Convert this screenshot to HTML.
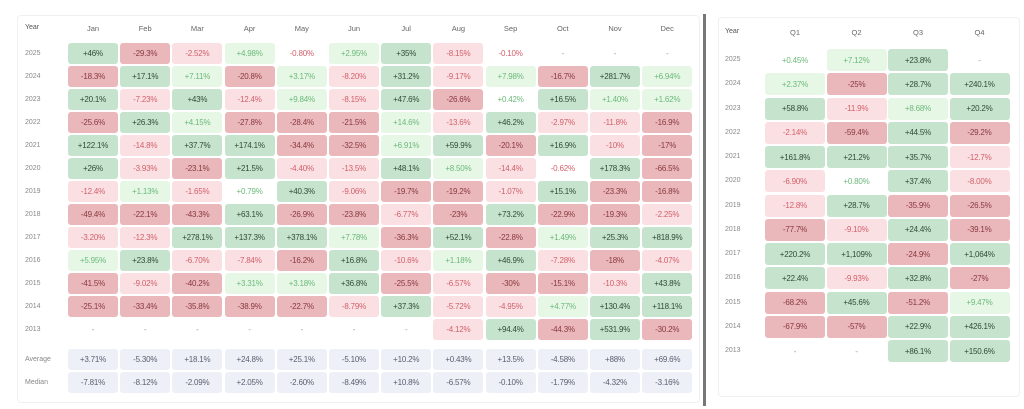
<!DOCTYPE html>
<html><head><meta charset="utf-8"><style>
body{margin:0;width:1024px;height:409px;background:#fff;position:relative;overflow:hidden;font-family:"Liberation Sans",sans-serif;}
.p{position:absolute;border:1px solid #eef0f2;border-radius:4px;}
.c{position:absolute;display:flex;align-items:center;justify-content:center;font-size:8px;border-radius:3px;letter-spacing:-0.2px;}
.l{position:absolute;font-size:7px;color:#888;}
.h{position:absolute;font-size:7.5px;color:#666;text-align:center;}
</style></head><body>
<div class="p" style="left:17px;top:15px;width:681px;height:386px;"></div>
<div style="position:absolute;left:703px;top:14px;width:3px;height:392px;background:#777;"></div>
<div class="p" style="left:718px;top:17px;width:300px;height:378px;"></div>
<div id="root"></div>
<script>
function sty(v,stat){
  if(stat) return ['#eef0f8','#5a5f6e'];
  if(v==='-') return ['transparent','#999'];
  var n=parseFloat(v.replace(/,/g,''));
  var a=Math.abs(n);
  if(a<1) return ['transparent', n<0?'#d0606a':'#6cb97a'];
  if(n>0) return a>=15?['#c6e4cd','#2f4a36']:['#e6f7e6','#6cb97a'];
  return a>=15?['#eab7ba','#883a3f']:['#fbe0e3','#d0606a'];
}
var out='';
function cell(x,y,w,h,v,stat){var s=sty(v,stat);out+='<div class="c" style="left:'+x+'px;top:'+y+'px;width:'+w+'px;height:'+h+'px;background:'+s[0]+';color:'+s[1]+'">'+v+'</div>';}
var L=[
['2025','+46%','-29.3%','-2.52%','+4.98%','-0.80%','+2.95%','+35%','-8.15%','-0.10%','-','-','-'],
['2024','-18.3%','+17.1%','+7.11%','-20.8%','+3.17%','-8.20%','+31.2%','-9.17%','+7.98%','-16.7%','+281.7%','+6.94%'],
['2023','+20.1%','-7.23%','+43%','-12.4%','+9.84%','-8.15%','+47.6%','-26.6%','+0.42%','+16.5%','+1.40%','+1.62%'],
['2022','-25.6%','+26.3%','+4.15%','-27.8%','-28.4%','-21.5%','+14.6%','-13.6%','+46.2%','-2.97%','-11.8%','-16.9%'],
['2021','+122.1%','-14.8%','+37.7%','+174.1%','-34.4%','-32.5%','+6.91%','+59.9%','-20.1%','+16.9%','-10%','-17%'],
['2020','+26%','-3.93%','-23.1%','+21.5%','-4.40%','-13.5%','+48.1%','+8.50%','-14.4%','-0.62%','+178.3%','-66.5%'],
['2019','-12.4%','+1.13%','-1.65%','+0.79%','+40.3%','-9.06%','-19.7%','-19.2%','-1.07%','+15.1%','-23.3%','-16.8%'],
['2018','-49.4%','-22.1%','-43.3%','+63.1%','-26.9%','-23.8%','-6.77%','-23%','+73.2%','-22.9%','-19.3%','-2.25%'],
['2017','-3.20%','-12.3%','+278.1%','+137.3%','+378.1%','+7.78%','-36.3%','+52.1%','-22.8%','+1.49%','+25.3%','+818.9%'],
['2016','+5.95%','+23.8%','-6.70%','-7.84%','-16.2%','+16.8%','-10.6%','+1.18%','+46.9%','-7.28%','-18%','-4.07%'],
['2015','-41.5%','-9.02%','-40.2%','+3.31%','+3.18%','+36.8%','-25.5%','-6.57%','-30%','-15.1%','-10.3%','+43.8%'],
['2014','-25.1%','-33.4%','-35.8%','-38.9%','-22.7%','-8.79%','+37.3%','-5.72%','-4.95%','+4.77%','+130.4%','+118.1%'],
['2013','-','-','-','-','-','-','-','-4.12%','+94.4%','-44.3%','+531.9%','-30.2%']];
var S=[
['Average','+3.71%','-5.30%','+18.1%','+24.8%','+25.1%','-5.10%','+10.2%','+0.43%','+13.5%','-4.58%','+88%','+69.6%'],
['Median','-7.81%','-8.12%','-2.09%','+2.05%','-2.60%','-8.49%','+10.8%','-6.57%','-0.10%','-1.79%','-4.32%','-3.16%']];
var M=['Jan','Feb','Mar','Apr','May','Jun','Jul','Aug','Sep','Oct','Nov','Dec'];
out+='<div class="l" style="left:25px;top:24px;color:#555">Year</div>';
for(var j=0;j<12;j++){out+='<div class="h" style="left:'+(68+j*52.2)+'px;top:24px;width:50px">'+M[j]+'</div>';}
for(var i=0;i<13;i++){var y=43+i*23;out+='<div class="l" style="left:25px;top:'+(y+7)+'px">'+L[i][0]+'</div>';
 for(var j=0;j<12;j++)cell(68+j*52.2,y,50,21,L[i][j+1]);}
for(var i=0;i<2;i++){var y=349+i*23;out+='<div class="l" style="left:25px;top:'+(y+7)+'px">'+S[i][0]+'</div>';
 for(var j=0;j<12;j++)cell(68+j*52.2,y,50,21,S[i][j+1],true);}
var R=[
['2025','+0.45%','+7.12%','+23.8%','-'],
['2024','+2.37%','-25%','+28.7%','+240.1%'],
['2023','+58.8%','-11.9%','+8.68%','+20.2%'],
['2022','-2.14%','-59.4%','+44.5%','-29.2%'],
['2021','+161.8%','+21.2%','+35.7%','-12.7%'],
['2020','-6.90%','+0.80%','+37.4%','-8.00%'],
['2019','-12.8%','+28.7%','-35.9%','-26.5%'],
['2018','-77.7%','-9.10%','+24.4%','-39.1%'],
['2017','+220.2%','+1,109%','-24.9%','+1,064%'],
['2016','+22.4%','-9.93%','+32.8%','-27%'],
['2015','-68.2%','+45.6%','-51.2%','+9.47%'],
['2014','-67.9%','-57%','+22.9%','+426.1%'],
['2013','-','-','+86.1%','+150.6%']];
out+='<div class="l" style="left:725px;top:28px;color:#555">Year</div>';
var Q=['Q1','Q2','Q3','Q4'];
for(var j=0;j<4;j++){out+='<div class="h" style="left:'+(765+j*61.5)+'px;top:28px;width:60px">'+Q[j]+'</div>';}
for(var i=0;i<13;i++){var y=49+i*24.25;out+='<div class="l" style="left:725px;top:'+(y+7)+'px">'+R[i][0]+'</div>';
 for(var j=0;j<4;j++)cell(765+j*61.5,y,60,22,R[i][j+1]);}
document.getElementById('root').innerHTML=out;
</script>
</body></html>
